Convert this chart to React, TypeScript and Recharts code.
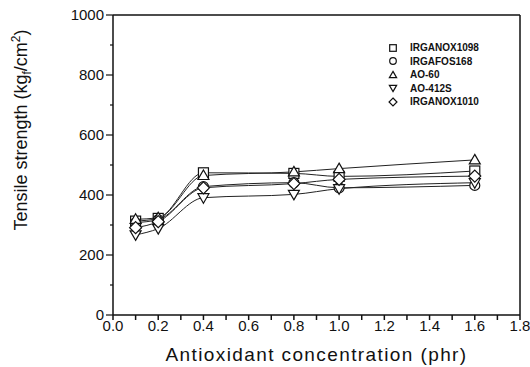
import { LineChart, Line, XAxis, YAxis, ReferenceLine } from "recharts";

const conc = [0.1, 0.2, 0.4, 0.8, 1.0, 1.6];
const irganox1098 = [313, 322, 474, 472, 462, 480];
const irgafos168 = [308, 318, 428, 441, 424, 432];
const ao60 = [319, 324, 465, 477, 488, 517];
const ao412s = [267, 288, 391, 402, 421, 441];
const irganox1010 = [291, 311, 424, 438, 452, 463];

const xTicks = [0, 0.1, 0.2, 0.3, 0.4, 0.5, 0.6, 0.7, 0.8, 0.9, 1.0, 1.1, 1.2, 1.3, 1.4, 1.5, 1.6, 1.7, 1.8];
const yTicks = [0, 100, 200, 300, 400, 500, 600, 700, 800, 900, 1000];

const data = conc.map((x, i) => ({
  x,
  irganox1098: irganox1098[i],
  irgafos168: irgafos168[i],
  ao60: ao60[i],
  ao412s: ao412s[i],
  irganox1010: irganox1010[i],
}));

const series = [
  { key: "irganox1098", name: "IRGANOX1098", shape: "square" },
  { key: "irgafos168", name: "IRGAFOS168", shape: "circle" },
  { key: "ao60", name: "AO-60", shape: "up" },
  { key: "ao412s", name: "AO-412S", shape: "down" },
  { key: "irganox1010", name: "IRGANOX1010", shape: "diamond" },
];

function Marker({ shape, cx, cy, r }: { shape: string; cx: number; cy: number; r: number }) {
  const p = { fill: "#fff", stroke: "#111", strokeWidth: 1.2 };
  if (shape === "square") return <rect x={cx - r} y={cy - r} width={2 * r} height={2 * r} {...p} />;
  if (shape === "circle") return <circle cx={cx} cy={cy} r={r} {...p} />;
  if (shape === "up")
    return <polygon points={`${cx},${cy - r * 1.1} ${cx + r * 1.1},${cy + r * 0.8} ${cx - r * 1.1},${cy + r * 0.8}`} {...p} />;
  if (shape === "down")
    return <polygon points={`${cx},${cy + r * 1.1} ${cx + r * 1.1},${cy - r * 0.8} ${cx - r * 1.1},${cy - r * 0.8}`} {...p} />;
  return <polygon points={`${cx},${cy - r * 1.2} ${cx + r * 1.2},${cy} ${cx},${cy + r * 1.2} ${cx - r * 1.2},${cy}`} {...p} />;
}

const font = "'Liberation Sans', Arial, sans-serif";

function YTick(props: any) {
  const { x, y, payload } = props;
  const major = payload.value % 200 === 0;
  return (
    <g>
      <line x1={x + 8 - (major ? 7 : 3)} x2={x + 8} y1={y} y2={y} stroke="#111" strokeWidth={1.2} />
      {major && (
        <text x={x - 1} y={y} dy={5} textAnchor="end" fontSize={15} fontFamily={font} fill="#111">
          {payload.value}
        </text>
      )}
    </g>
  );
}

function LegendBox() {
  return (
    <div
      style={{
        position: "absolute",
        left: 387,
        top: 41,
        fontFamily: font,
        fontWeight: 700,
        fontSize: 10,
        color: "#111",
      }}
    >
      {series.map((s) => (
        <div key={s.key} style={{ display: "flex", alignItems: "center", height: 13.5 }}>
          <svg width={14} height={12}>
            <Marker shape={s.shape} cx={6} cy={6} r={3.3} />
          </svg>
          <span style={{ marginLeft: 9 }}>{s.name}</span>
        </div>
      ))}
    </div>
  );
}

export default function App() {
  return (
    <div style={{ position: "absolute", left: 0, top: 0, width: 530, height: 367, background: "#fff" }}>
      <LineChart width={530} height={367} data={data} margin={{ top: 15, right: 10, bottom: 0, left: 0 }}>
        <XAxis
          dataKey="x"
          type="number"
          domain={[0, 1.8]}
          ticks={xTicks}
          interval={0}
          height={52}
          stroke="#111"
          strokeWidth={1.5}
          tickSize={5}
          tickMargin={0}
          tick={{ fontSize: 15, fontFamily: font, fill: "#111" }}
          tickFormatter={(v: number) => (Math.round(v * 10) % 2 === 0 ? v.toFixed(1) : "")}
          label={{
            value: "Antioxidant concentration (phr)",
            position: "insideBottom",
            offset: 6,
            style: { fontSize: 19, fontFamily: font, fill: "#111", letterSpacing: 1.4 },
          }}
        />
        <YAxis
          type="number"
          domain={[0, 1000]}
          ticks={yTicks}
          interval={0}
          width={113}
          stroke="#111"
          strokeWidth={1.5}
          tickSize={7}
          tickMargin={1}
          tickLine={false}
          tick={<YTick />}
          label={{
            content: () => (
              <text x={27} y={130} transform="rotate(-90 27 130)" textAnchor="middle" fontSize={18} fontFamily={font} fill="#111">
                Tensile strength (kg
                <tspan fontSize={12} dy={4}>f</tspan>
                <tspan dy={-4}>/cm</tspan>
                <tspan fontSize={12} dy={-7}>2</tspan>
                <tspan dy={7}>)</tspan>
              </text>
            ),
          }}
        />
        <ReferenceLine y={1000} stroke="#111" strokeWidth={1.5} ifOverflow="visible" />
        <ReferenceLine x={1.8} stroke="#111" strokeWidth={1.5} ifOverflow="visible" />
        {series.map((s) => (
          <Line
            key={s.key}
            dataKey={s.key}
            name={s.name}
            type="monotone"
            stroke="#222"
            strokeWidth={1}
            isAnimationActive={false}
            dot={(p: any) => <Marker key={`${s.key}-${p.index}`} shape={s.shape} cx={p.cx} cy={p.cy} r={5} />}
          />
        ))}
      </LineChart>
      <LegendBox />
    </div>
  );
}
